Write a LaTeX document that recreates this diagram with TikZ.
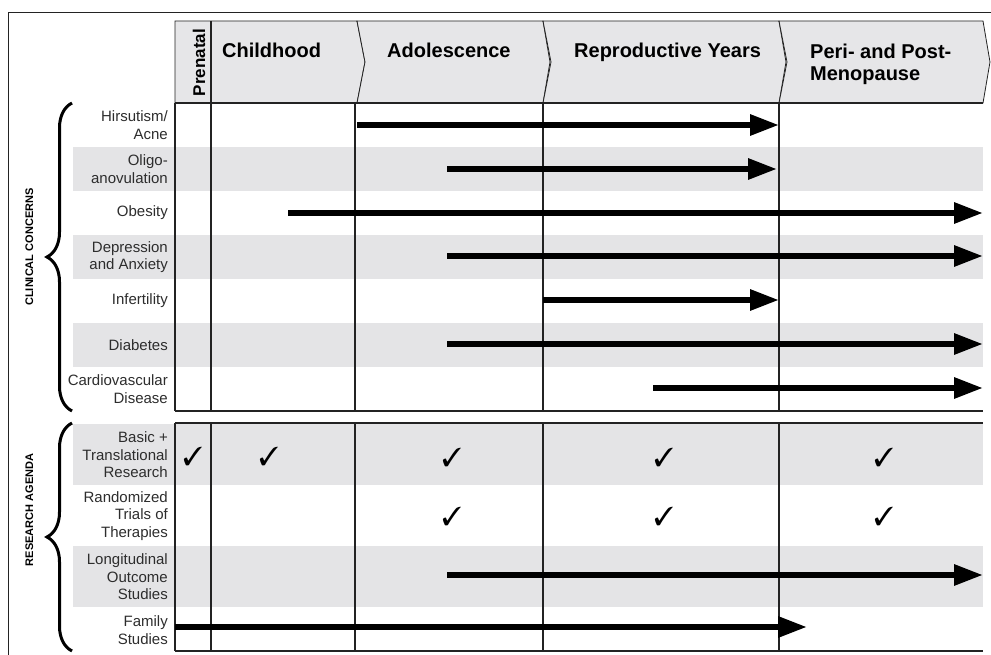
\documentclass[tikz,border=0pt]{standalone}
\usepackage{fontspec}
\usepackage{pifont}
\setmainfont{Liberation Sans}
\usetikzlibrary{arrows.meta,decorations.pathreplacing}
\definecolor{bandgray}{RGB}{228,228,230}
\definecolor{headgray}{RGB}{230,230,232}
\definecolor{gridline}{RGB}{35,35,35}
\definecolor{labeltext}{RGB}{45,45,45}
\begin{document}
\begin{tikzpicture}[x=1pt,y=-1pt,
  rowlabel/.style={anchor=east,align=right,inner sep=0pt,text=labeltext,
    font=\fontsize{15}{17.5}\selectfont},
  stage/.style={anchor=base west,align=left,inner sep=0pt,
    font=\bfseries\fontsize{20}{22}\selectfont},
  headbox/.style={fill=headgray,draw=gridline,line width=0.8pt,line join=miter},
  bar/.style={line width=6pt,-{Triangle[length=29pt,width=20pt]}},
  tick/.style={inner sep=0pt,font=\fontsize{26}{26}\selectfont},
  gridrule/.style={line width=1.4pt,draw=gridline},
  band/.style={fill=bandgray,draw=none},
  bracket/.style={decorate,decoration={brace,amplitude=25pt},line width=3pt},
  sidelabel/.style={rotate=90,anchor=base,inner sep=0pt,
    font=\bfseries\fontsize{11}{11}\selectfont}
]
\useasboundingbox (0,0) rectangle (991,655);

% outer frame (top and left edges)
\draw[line width=1pt,draw=gridline] (8,660) |- (996,13);

% ---------- header: life stages ----------
\path[headbox] (175,21) -- (357,21) -- (365,62) -- (357,103) -- (175,103) -- cycle;
\foreach \l/\r in {357/543, 543/779, 779/983}
  \path[headbox] (\l,21) -- (\r,21) -- (\r+7,62) -- (\r,103) -- (\l,103) -- (\l+8,62) -- cycle;
\draw[gridrule] (211,21) -- (211,103);

\node[rotate=90,anchor=base,inner sep=0pt,font=\bfseries\fontsize{17}{17}\selectfont]
  (prenatal) at (205,62.5) {Prenatal};
\node[stage] (childhood)   at (222,58) {Childhood};
\node[stage] (adolescence) at (387,58) {Adolescence};
\node[stage] (reproductive) at (574,58) {Reproductive Years};
\node[stage,anchor=north west] (menopause) at (810,43.5) {Peri- and Post-\\Menopause};

% ---------- shaded bands ----------
\foreach \a/\b in {147/191, 235/279, 323/367, 424/485, 546/607}
  \path[band] (73,\a) rectangle (983,\b);

% ---------- grid ----------
\foreach \x in {175,211,355,543,779} {
  \draw[gridrule] (\x,103) -- (\x,411);
  \draw[gridrule] (\x,423) -- (\x,651);
}
\foreach \y in {103,411,423,651}
  \draw[gridrule] (175,\y) -- (983,\y);

% ---------- row labels ----------
\node[rowlabel] (hirs)  at (168,125) {Hirsutism/\\Acne};
\node[rowlabel] (oligo) at (168,169) {Oligo-\\anovulation};
\node[rowlabel] (obes)  at (168,213) {Obesity};
\node[rowlabel] (depr)  at (168,257) {Depression\\and Anxiety};
\node[rowlabel] (infe)  at (168,301) {Infertility};
\node[rowlabel] (diab)  at (168,345) {Diabetes};
\node[rowlabel] (card)  at (168,389) {Cardiovascular\\Disease};
\node[rowlabel] (basic) at (168,455) {Basic +\\Translational\\Research};
\node[rowlabel] (rct)   at (168,516) {Randomized\\Trials of\\Therapies};
\node[rowlabel] (longi) at (168,577) {Longitudinal\\Outcome\\Studies};
\node[rowlabel] (fam)   at (168,630) {Family\\Studies};

% ---------- group braces ----------
\draw[bracket] (72,411) -- (72,103);
\draw[bracket] (72,651) -- (72,423);
\node[sidelabel] (clinical) at (33,247) {CLINICAL CONCERNS};
\node[sidelabel] (research) at (33,510) {RESEARCH AGENDA};

% ---------- duration bars ----------
\foreach \nm/\y/\xs/\xe in {hirsbar/125/357/779, oligobar/169/447/777,
    obesbar/213/288/983, deprbar/256/447/983, infebar/300/543/779,
    diabbar/344/447/983, cardbar/388/653/983, longibar/575/447/983,
    fambar/627/175/807} {
  \coordinate (\nm-s) at (\xs,\y);
  \coordinate (\nm-e) at (\xe,\y);
  \draw[bar] (\nm-s) -- (\nm-e);
}

% ---------- research check marks ----------
\node[tick] (t1) at (193,456) {\ding{51}};
\node[tick] (t2) at (269,456) {\ding{51}};
\node[tick] (t3) at (452,457) {\ding{51}};
\node[tick] (t4) at (664,457) {\ding{51}};
\node[tick] (t5) at (884,457) {\ding{51}};
\node[tick] (t6) at (452,516) {\ding{51}};
\node[tick] (t7) at (664,516) {\ding{51}};
\node[tick] (t8) at (884,516) {\ding{51}};
\end{tikzpicture}
\end{document}
